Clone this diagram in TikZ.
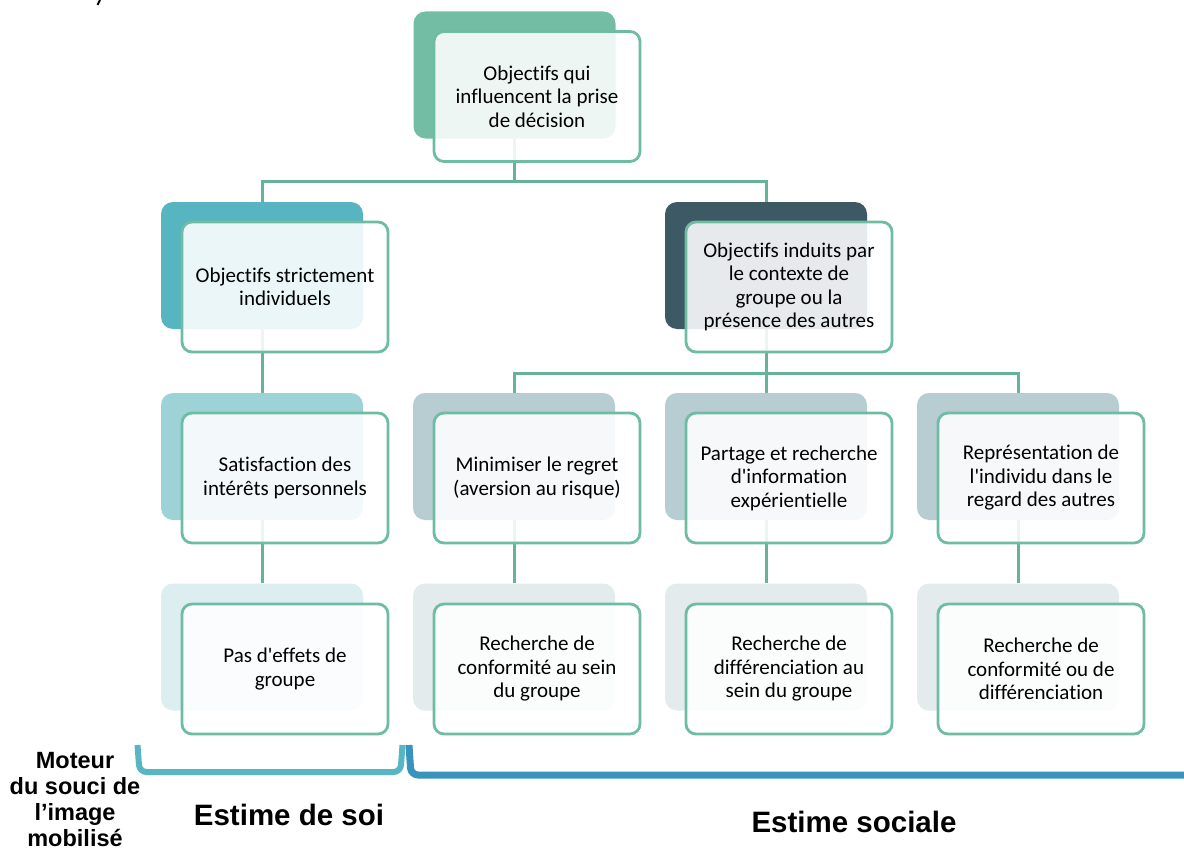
\documentclass[tikz,border=0pt]{standalone}
\usepackage{fontspec}
\newfontfamily\boxfont[Ligatures={NoCommon}]{Carlito}
\newfontfamily\labfont{Liberation Sans}
\usetikzlibrary{backgrounds}
\definecolor{cTop}{HTML}{74BDA5}
\definecolor{cLeftA}{HTML}{56B5C1}
\definecolor{cRightA}{HTML}{3D5963}
\definecolor{cLeftB}{HTML}{9DD3D7}
\definecolor{cRightB}{HTML}{B7CDD2}
\definecolor{cLeftC}{HTML}{DCEEF0}
\definecolor{cRightC}{HTML}{E3EBEC}
\definecolor{cBorder}{HTML}{6EBDA2}
\definecolor{cLine}{HTML}{66B39A}
\definecolor{cBrL}{HTML}{58B6C2}
\definecolor{cBrR}{HTML}{3894BC}
\tikzset{
  backbox/.style={rectangle, rounded corners=12pt, minimum width=202pt, minimum height=127pt, inner sep=0pt},
  frontbox/.style={rectangle, rounded corners=10pt, draw=cBorder, line width=2.8pt, fill=white, fill opacity=0.88, text opacity=1,
     minimum width=206pt, minimum height=130pt, inner sep=0pt, align=center,
     font=\boxfont\fontsize{21}{23.5}\selectfont},
  link/.style={draw=cLine, line width=3pt},
  bigtext/.style={font=\labfont\bfseries\fontsize{29.5}{34}\selectfont},
  sidetext/.style={font=\labfont\bfseries\fontsize{23.5}{26}\selectfont, align=center, inner sep=1pt}
}
\begin{document}
\begin{tikzpicture}[x=1pt,y=-1pt]
\useasboundingbox (0,0) rectangle (1184,851);
% top
\node[backbox, fill=cTop] (b0) at (514.5,75) {};
\node[frontbox] (f0) at (537,96.5) {Objectifs qui\\influencent la prise\\de décision};
% level 2
\node[backbox, fill=cLeftA] (b1) at (262,265.5) {};
\node[frontbox] (f1) at (285,287) {Objectifs strictement\\individuels};
\node[backbox, fill=cRightA] (b2) at (766,265.5) {};
\node[frontbox] (f2) at (789,287) {Objectifs induits par\\le contexte de\\groupe ou la\\présence des autres};
% level 3
\node[backbox, fill=cLeftB] (b3) at (262,456.5) {};
\node[frontbox] (f3) at (285,478) {Satisfaction des\\intérêts personnels};
\node[backbox, fill=cRightB] (b4) at (514,456.5) {};
\node[frontbox] (f4) at (537,478) {Minimiser le regret\\(aversion au risque)};
\node[backbox, fill=cRightB] (b5) at (766,456.5) {};
\node[frontbox] (f5) at (789,478) {Partage et recherche\\d'information\\expérientielle};
\node[backbox, fill=cRightB] (b6) at (1018,456.5) {};
\node[frontbox] (f6) at (1041,478) {Représentation de\\l'individu dans le\\regard des autres};
% level 4
\node[backbox, fill=cLeftC] (b7) at (262,647) {};
\node[frontbox] (f7) at (285,669) {Pas d'effets de\\groupe};
\node[backbox, fill=cRightC] (b8) at (514,647) {};
\node[frontbox] (f8) at (537,669) {Recherche de\\conformité au sein\\du groupe};
\node[backbox, fill=cRightC] (b9) at (766,647) {};
\node[frontbox] (f9) at (789,669) {Recherche de\\différenciation au\\sein du groupe};
\node[backbox, fill=cRightC] (b10) at (1018,647) {};
\node[frontbox] (f10) at (1041,669) {Recherche de\\conformité ou de\\différenciation};
% connectors
\coordinate (j0) at (514.5,181);
\coordinate (j1) at (766,373);
\begin{scope}[on background layer]
\draw[link] (b0.south) -- (j0) -| (b1.north);
\draw[link] (j0) -| (b2.north);
\draw[link] (b1.south) -- (b3.north);
\draw[link] (b2.south) -- (j1) -| (b4.north);
\draw[link] (j1) -| (b6.north);
\draw[link] (j1) -- (b5.north);
\draw[link] (b3.south) -- (b7.north);
\draw[link] (b4.south) -- (b8.north);
\draw[link] (b5.south) -- (b9.north);
\draw[link] (b6.south) -- (b10.north);
\end{scope}
% brackets
\coordinate (bl1) at (137.5,745);
\coordinate (bl2) at (402.5,745);
\coordinate (br1) at (409,745);
\coordinate (br2) at (1190,775);
\draw[cBrL, line width=6pt, rounded corners=7pt] (bl1) -- (139.5,772) -- (400.5,772) -- (bl2);
\draw[cBrR, line width=7pt, rounded corners=7pt] (br1) -- (411,775) -- (br2);
% labels
\node[sidetext] (moteur) at (75,799.5) {Moteur\\du souci de\\l’image\\mobilisé};
\node[bigtext] (soi) at (289,815) {Estime de soi};
\node[bigtext] (soc) at (854,822) {Estime sociale};
% stray mark top-left
\draw[black, line width=2pt] (100,0) -- (97.5,5);
\end{tikzpicture}
\end{document}
